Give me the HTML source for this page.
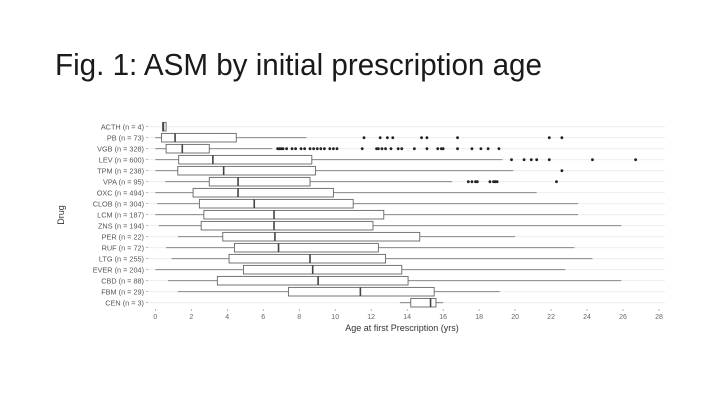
<!DOCTYPE html>
<html><head><meta charset="utf-8"><style>
html,body{margin:0;padding:0;background:#fff;width:720px;height:405px;overflow:hidden}
</style></head><body>
<svg id="s" width="720" height="405" xmlns="http://www.w3.org/2000/svg" font-family="Liberation Sans, sans-serif">
<text x="55" y="75" font-size="31" fill="#1a1a1a" textLength="487" lengthAdjust="spacingAndGlyphs">Fig. 1: ASM by initial prescription age</text>
<text x="402" y="331" font-size="9" fill="#333" text-anchor="middle">Age at first Prescription (yrs)</text>
<text transform="translate(64,215) rotate(-90)" font-size="9" fill="#333" text-anchor="middle">Drug</text>
</svg>
<script>
var s=document.getElementById('s'),NS='http://www.w3.org/2000/svg';
function el(t,a,txt){var e=document.createElementNS(NS,t);for(var k in a)e.setAttribute(k,a[k]);if(txt!=null)e.textContent=txt;s.appendChild(e);return e;}
function X(v){return 155.3+v*17.99;}
var rows=[
["ACTH (n = 4)",0.4,0.4,0.45,0.6,0.6,[]],
["PB (n = 73)",0,0.35,1.1,4.5,8.4,[11.6,12.5,12.9,13.2,14.8,15.1,16.8,21.9,22.6]],
["VGB (n = 328)",0,0.6,1.5,3.0,6.5,[6.8,6.9,7.0,7.1,7.3,7.6,7.8,8.1,8.3,8.6,8.8,9.0,9.2,9.4,9.7,9.9,10.1,11.5,12.3,12.4,12.6,12.8,13.1,13.5,13.7,14.4,15.1,15.7,15.9,16.0,16.8,17.6,18.1,18.5,19.1]],
["LEV (n = 600)",0,1.3,3.2,8.7,19.3,[19.8,20.5,20.9,21.2,21.9,24.3,26.7]],
["TPM (n = 238)",0,1.25,3.8,8.9,19.9,[22.6]],
["VPA (n = 95)",0.55,3.0,4.6,8.6,16.5,[17.4,17.6,17.8,17.9,18.6,18.8,18.9,19.0,22.3]],
["OXC (n = 494)",0,2.1,4.6,9.9,21.2,[]],
["CLOB (n = 304)",0.1,2.45,5.5,11.0,23.5,[]],
["LCM (n = 187)",0,2.7,6.6,12.7,23.5,[]],
["ZNS (n = 194)",0.2,2.55,6.6,12.1,25.9,[]],
["PER (n = 22)",1.25,3.75,6.65,14.7,20.0,[]],
["RUF (n = 72)",0.6,4.4,6.85,12.4,23.3,[]],
["LTG (n = 255)",0.9,4.1,8.6,12.8,24.3,[]],
["EVER (n = 204)",0,4.9,8.75,13.7,22.8,[]],
["CBD (n = 88)",0.7,3.45,9.05,14.05,25.9,[]],
["FBM (n = 29)",1.25,7.4,11.4,15.5,19.15,[]],
["CEN (n = 3)",13.6,14.2,15.3,15.6,16.0,[]]];
for(var i=0;i<rows.length;i++){var y=126.7+i*11;el('line',{x1:148,x2:665,y1:y,y2:y,stroke:'#ebebeb','stroke-width':0.8});}
for(var t=0;t<=28;t+=2){el('line',{x1:X(t),x2:X(t),y1:309,y2:311,stroke:'#888','stroke-width':0.6});el('text',{x:X(t),y:319,'font-size':7,fill:'#666','text-anchor':'middle'},t);}
rows.forEach(function(r,i){var y=126.7+i*11,h=4.3;
el('line',{x1:146,x2:148,y1:y,y2:y,stroke:'#888','stroke-width':0.6});
el('text',{x:144,y:y+2.6,'font-size':7.3,fill:'#555','text-anchor':'end'},r[0]);
el('line',{x1:X(r[1]),x2:X(r[2]),y1:y,y2:y,stroke:'#777','stroke-width':0.9});
el('line',{x1:X(r[4]),x2:X(r[5]),y1:y,y2:y,stroke:'#777','stroke-width':0.9});
el('rect',{x:X(r[2]),y:y-h,width:X(r[4])-X(r[2]),height:2*h,fill:'#fff',stroke:'#666','stroke-width':0.9});
el('line',{x1:X(r[3]),x2:X(r[3]),y1:y-h,y2:y+h,stroke:'#444','stroke-width':1.6});
r[6].forEach(function(o){el('circle',{cx:X(o),cy:y,r:1.4,fill:'#222'});});
});
</script>
</body></html>
